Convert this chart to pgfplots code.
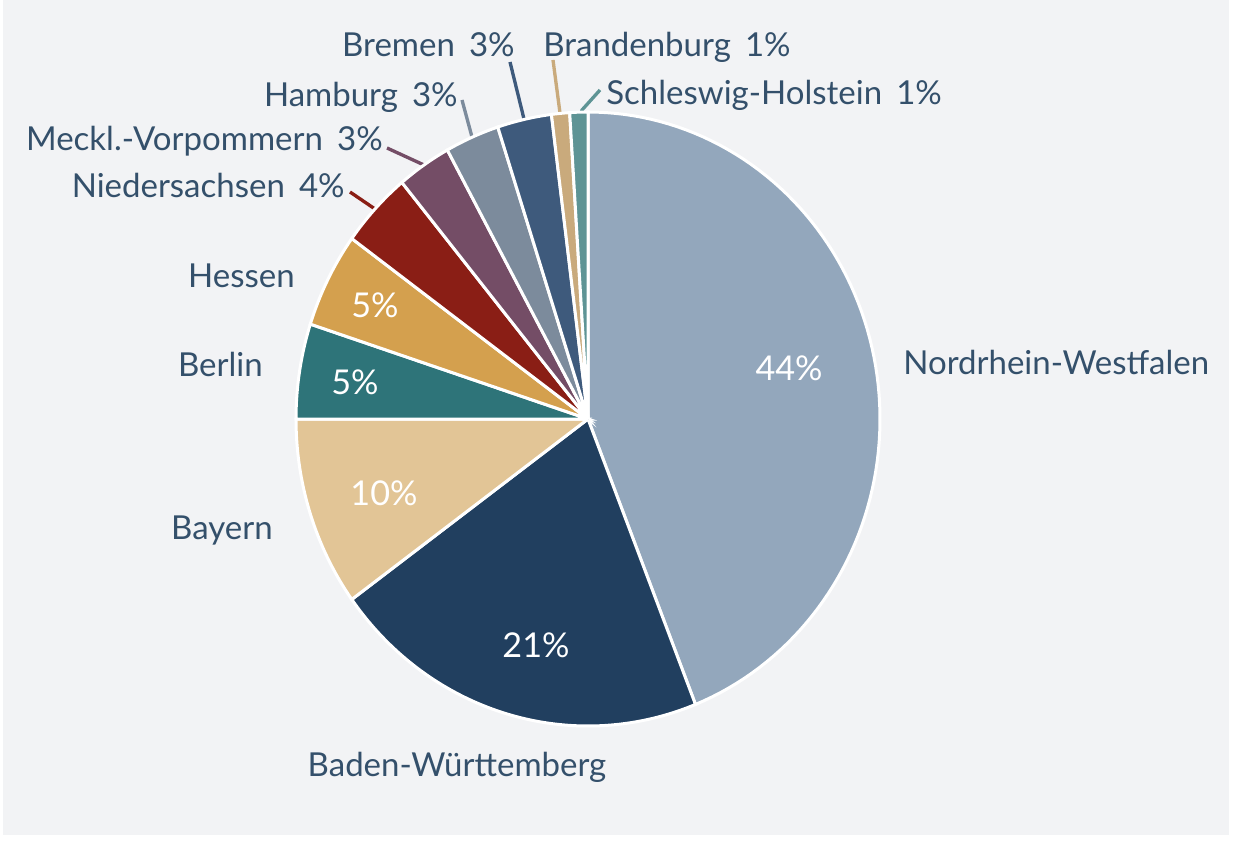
\documentclass[border=0pt]{standalone}
\usepackage{fontspec}
\setmainfont{Lato}
\usepackage{pgfplots}
\pgfplotsset{compat=1.18}
\definecolor{bg}{HTML}{F2F3F5}
\definecolor{tc}{HTML}{34506B}
\definecolor{cNRW}{HTML}{93A7BC}
\definecolor{cBW}{HTML}{213F5F}
\definecolor{cBY}{HTML}{E2C596}
\definecolor{cBE}{HTML}{2E7479}
\definecolor{cHE}{HTML}{D4A04E}
\definecolor{cNI}{HTML}{8A1E15}
\definecolor{cMV}{HTML}{744D66}
\definecolor{cHH}{HTML}{7C8B9C}
\definecolor{cHB}{HTML}{3E5A7C}
\definecolor{cBB}{HTML}{C9AA7C}
\definecolor{cSH}{HTML}{5E9495}
\newcommand{\gap}{\hspace{8.5pt}}
% slice: #1 = cumulative share before (%), #2 = share (%), #3 = colour
\newcommand{\slice}[3]{%
  \addplot[fill=#3, draw=white, line width=1.8pt, domain={90-3.6*(#1+#2)}:{90-3.6*(#1)}, samples=90]
    ({588+292*cos(x)},{428+307*sin(x)}) -- (axis cs:588,428) -- cycle;}
\begin{document}
\begin{tikzpicture}
\begin{axis}[at={(0,0)}, anchor=south west, width=743.4pt, height=508.2pt, scale only axis,
  xmin=0, xmax=1239, ymin=0, ymax=847, axis lines=none, ticks=none, clip=false]
\fill[white] (axis cs:0,0) rectangle (axis cs:1239,847);
\fill[bg] (axis cs:3,12) rectangle (axis cs:1229,847);
% leader lines
\addplot[cNI, line width=2pt] coordinates {(350,655) (375,638)};
\addplot[cMV, line width=2pt] coordinates {(387,699) (424,682)};
\addplot[cHH, line width=2pt] coordinates {(462,747) (472,710)};
\addplot[cHB, line width=2pt] coordinates {(510,785) (524,728)};
\addplot[cBB, line width=2pt] coordinates {(553,787) (560,734)};
\addplot[cSH, line width=2pt] coordinates {(600,757) (582,737) (580,730)};
% pie (shares in %)
\slice{0}{44}{cNRW}
\slice{44}{21}{cBW}
\slice{65}{10}{cBY}
\slice{75}{5}{cBE}
\slice{80}{5}{cHE}
\slice{85}{4}{cNI}
\slice{89}{3}{cMV}
\slice{92}{3}{cHH}
\slice{95}{3}{cHB}
\slice{98}{1}{cBB}
\slice{99}{1}{cSH}
% inner labels
\begin{scope}[every node/.style={text=white, font=\fontsize{20.5}{24}\selectfont}]
\node at (axis cs:789,479) {44\%};
\node at (axis cs:536,202) {21\%};
\node at (axis cs:384,354) {10\%};
\node at (axis cs:355,465) {5\%};
\node at (axis cs:375,542) {5\%};
\end{scope}
% outer labels
\begin{scope}[every node/.style={text=tc, font=\fontsize{19.8}{24}\selectfont, inner sep=0pt}]
\node[anchor=mid west] at (axis cs:903,477) {Nordrhein-Westfalen};
\node[anchor=mid] at (axis cs:457,75) {Baden-Württemberg};
\node[anchor=mid east] at (axis cs:273,312) {Bayern};
\node[anchor=mid east] at (axis cs:263,475) {Berlin};
\node[anchor=mid east] at (axis cs:295,564) {Hessen};
\node[anchor=mid east] at (axis cs:345,654) {Niedersachsen\gap 4\%};
\node[anchor=mid east] at (axis cs:383,701) {Meckl.-Vorpommern\gap 3\%};
\node[anchor=mid east] at (axis cs:458,745) {Hamburg\gap 3\%};
\node[anchor=mid east] at (axis cs:515,795) {Bremen\gap 3\%};
\node[anchor=mid west] at (axis cs:543,795) {Brandenburg\gap 1\%};
\node[anchor=mid west] at (axis cs:606,747) {Schleswig-Holstein\gap 1\%};
\end{scope}
\end{axis}
\end{tikzpicture}
\end{document}
